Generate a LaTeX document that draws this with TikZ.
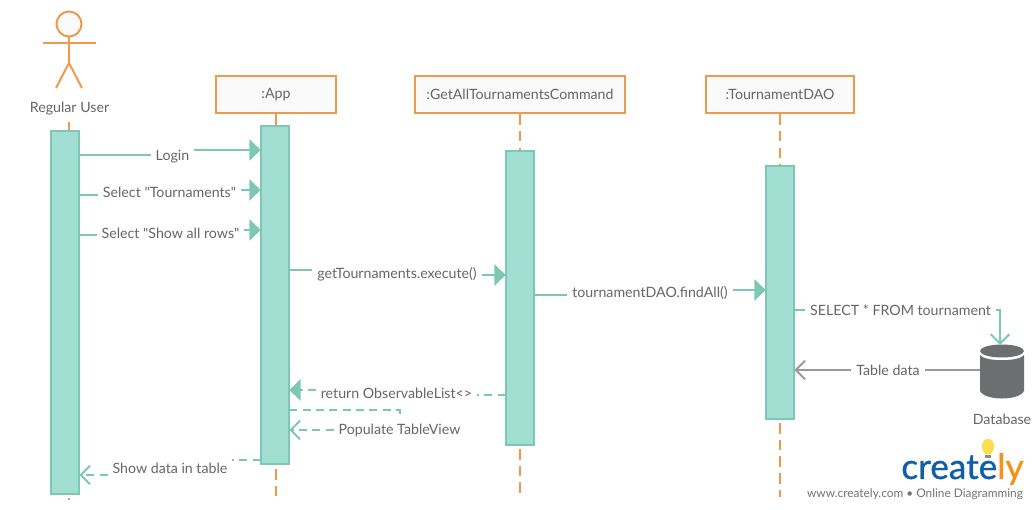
\documentclass[tikz,border=0pt]{standalone}
\usepackage{fontspec}
\setmainfont{Lato}[Ligatures = TeXOff]
\newfontfamily\logofont{Lato}[FakeBold = 0.8]
\usetikzlibrary{arrows.meta}

\definecolor{boxorange}{HTML}{EE9A4D}
\definecolor{barfill}{HTML}{A0DFD2}
\definecolor{barline}{HTML}{7FC7B5}
\definecolor{textgrey}{HTML}{666666}
\definecolor{dbgrey}{HTML}{6D6E70}
\definecolor{logoblue}{HTML}{0F5EA8}
\definecolor{logoorange}{HTML}{F5921E}

\tikzset{
	every node/.style = {text = textgrey, font = \fontsize{10.65}{12}\selectfont},
	objbox/.style = {draw = boxorange, line width = 1.5pt, fill = black!2, minimum height = 28pt, inner sep = 0pt},
	actbar/.style = {draw = barline, line width = 1.5pt, fill = barfill, minimum width = 21.5pt, inner sep = 0pt, outer sep = 0pt},
	msglabel/.style = {inner sep = 3.5pt},
	lifeline/.style = {draw = boxorange, line width = 1.5pt},
	lifedash/.style = {lifeline, dash pattern = on 8pt off 4.5pt},
	msgline/.style = {draw = barline, line width = 1.5pt},
	msgdash/.style = {msgline, dash pattern = on 6pt off 4pt},
	fillhead/.style = {-{Triangle[length = 8.5pt, width = 16pt]}},
	openhead/.style = {-{Straight Barb[length = 7pt, width = 14pt]}},
}

\begin{document}
\begin{tikzpicture}[x = 0.75pt, y = -0.75pt]
	\useasboundingbox (0, 0) rectangle (1036, 510);

	% actor
	\draw[lifeline, fill = black!2] (69, 24) circle (12.5);
	\draw[lifeline] (43, 43) -- (96, 43);
	\draw[lifeline] (69, 36.5) -- (69, 63);
	\draw[lifeline] (56, 88) -- (69, 63) -- (82, 88);
	\node (user) at (69.5, 109) {Regular User};

	% objects
	\node[objbox, minimum width = 90pt] (app) at (276, 94.5) {:App};
	\node[objbox, minimum width = 157.5pt] (command) at (520, 94.5) {:GetAllTournamentsCommand};
	\node[objbox, minimum width = 111pt] (dao) at (780, 94.5) {:TournamentDAO};

	% activation bars
	\node[actbar, minimum height = 272pt] (userbar) at (65, 312.5) {};
	\node[actbar, minimum height = 253pt] (appbar) at (275, 295) {};
	\node[actbar, minimum height = 220pt] (commandbar) at (520, 298) {};
	\node[actbar, minimum height = 190pt] (daobar) at (780, 292.5) {};

	% lifelines
	\draw[lifeline] (69, 122) -- (69, 130);
	\draw[lifeline] (69, 498) -- (69, 500);
	\draw[lifeline] (app.south) -- (276, 125);
	\draw[lifedash] (276, 469) -- (276, 497);
	\draw[lifedash] (command.south) -- (command.south |- commandbar.north);
	\draw[lifedash] (520, 449) -- (520, 497);
	\draw[lifedash] (dao.south) -- (dao.south |- daobar.north);
	\draw[lifedash] (780, 423) -- (780, 497);

	% database
	\fill[dbgrey] (980, 351) arc[start angle = 180, end angle = -180, x radius = 22, y radius = 6.5];
	\fill[dbgrey] (980, 355) .. controls (985, 362) and (1019, 362) .. (1024, 355) -- (1024, 391) .. controls (1019, 401) and (985, 401) .. (980, 391) -- cycle;
	\coordinate (dbtop) at (1000, 345);
	\coordinate (dbside) at (980, 370);
	\node (database) at (1002, 419) {Database};

	% messages
	\node[msglabel] (login) at (172.5, 157) {Login};
	\draw[msgline] (userbar.east |- 0, 155) -- (login.west |- 0, 155);
	\draw[msgline, fillhead] (login.east |- 0, 150) -- (appbar.west |- 0, 150);

	\node[msglabel] (tournaments) at (169.5, 192) {Select "Tournaments"};
	\draw[msgline] (userbar.east |- 0, 195) -- (tournaments.west |- 0, 195);
	\draw[msgline, fillhead] (tournaments.east |- 0, 190) -- (appbar.west |- 0, 190);

	\node[msglabel] (showrows) at (170.5, 233) {Select "Show all rows"};
	\draw[msgline] (userbar.east |- 0, 235) -- (showrows.west |- 0, 235);
	\draw[msgline, fillhead] (showrows.east |- 0, 230) -- (appbar.west |- 0, 230);

	\node[msglabel] (execute) at (397, 274) {getTournaments.execute()};
	\draw[msgline] (appbar.east |- 0, 270) -- (execute.west |- 0, 270);
	\draw[msgline, fillhead] (execute.east |- 0, 275) -- (commandbar.west |- 0, 275);

	\node[msglabel] (findall) at (650, 293) {tournamentDAO.findAll()};
	\draw[msgline] (commandbar.east |- 0, 295) -- (findall.west |- 0, 295);
	\draw[msgline, fillhead] (findall.east |- 0, 290) -- (daobar.west |- 0, 290);

	\node[msglabel] (select) at (900.5, 310) {SELECT * FROM tournament};
	\draw[msgline] (daobar.east |- 0, 310) -- (select.west |- 0, 310);
	\draw[msgline, openhead] (select.east |- 0, 310) -| (dbtop);

	\node[msglabel] (tabledata) at (888, 370) {Table data};
	\draw[msgline, draw = black!40] (dbside) -- (tabledata.east |- dbside);
	\draw[msgline, draw = black!40, openhead] (tabledata.west |- dbside) -- (daobar.east |- dbside);

	\node[msglabel] (return) at (396.5, 393) {return ObservableList<>};
	\draw[msgdash] (commandbar.west |- 0, 395) -- (return.east |- 0, 395);
	\draw[msgdash, fillhead] (return.west |- 0, 390) -- (appbar.east |- 0, 390);

	\node[msglabel] (populate) at (399.5, 430) {Populate TableView};
	\draw[msgdash] (appbar.east |- 0, 410) -- (400, 410) -- (400, 415);
	\draw[msgdash, openhead] (populate.west |- 0, 430) -- (appbar.east |- 0, 430);

	\node[msglabel] (showdata) at (170, 468) {Show data in table};
	\draw[msgdash] (appbar.west |- 0, 460) -- (showdata.east |- 0, 460);
	\draw[msgdash, openhead] (showdata.west |- 0, 475) -- (userbar.east |- 0, 475);

	% logo
	\fill[yellow!70!orange!70] (988, 439) .. controls (981, 439) and (980, 448) .. (985, 454) -- (991, 454) .. controls (996, 448) and (995, 439) .. (988, 439) -- cycle;
	\fill[black!45] (985, 455) rectangle (991, 458);
	\node[inner sep = 0pt, font = \logofont\fontsize{26.4}{30}\selectfont] (logo) at (962.5, 469) {\textcolor{logoblue}{create}\textcolor{logoorange}{ly}};
	\node[inner sep = 0pt, text = black!55, font = \fontsize{8.9}{10}\selectfont] (weblink) at (915, 494) {www.creately.com • Online Diagramming};
\end{tikzpicture}
\end{document}
